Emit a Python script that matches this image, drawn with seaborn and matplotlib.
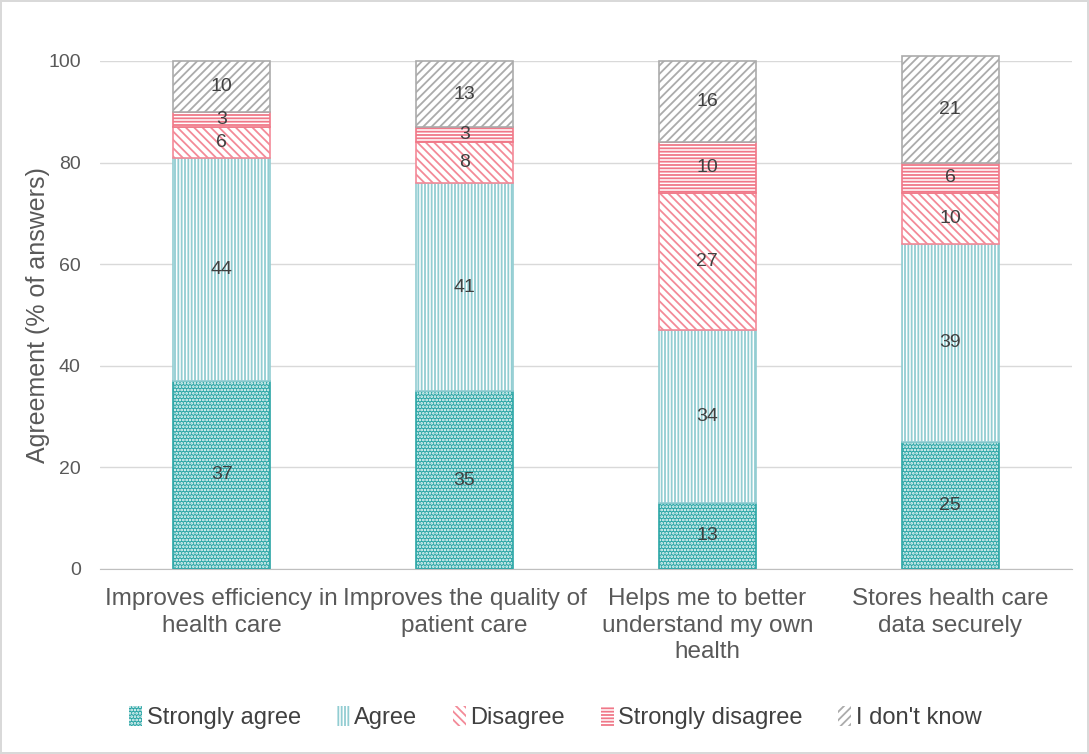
import matplotlib
matplotlib.use('Agg')
import matplotlib.pyplot as plt
import matplotlib.patches as mpatches
import numpy as np
import seaborn as sns

categories = ['Improves efficiency in\nhealth care',
              'Improves the quality of\npatient care',
              'Helps me to better\nunderstand my own\nhealth',
              'Stores health care\ndata securely']
strongly_agree = [37, 35, 13, 25]
agree = [44, 41, 34, 39]
disagree = [6, 8, 27, 10]
strongly_disagree = [3, 3, 10, 6]
dont_know = [10, 13, 16, 21]

series_names = ['Strongly agree', 'Agree', 'Disagree', 'Strongly disagree', "I don't know"]
series_values = [strongly_agree, agree, disagree, strongly_disagree, dont_know]

# (face colour, hatch colour, hatch, border colour)
styles = [
    ('#2BA6A6', 'white', '.....', '#2BA6A6'),
    ('white', '#92CDD2', '|||||', '#92CDD2'),
    ('white', '#F38A98', '\\\\\\\\', '#F38A98'),
    ('white', '#F07888', '-----', '#F07888'),
    ('white', '#ABABAB', '////', '#ABABAB'),
]

sns.set_style('white')
plt.rcParams['font.family'] = ['Liberation Sans', 'DejaVu Sans']
plt.rcParams['hatch.linewidth'] = 1.3

fig = plt.figure(figsize=(10.89, 7.54), dpi=100, edgecolor='#D9D9D9', linewidth=1.5)
ax = fig.add_axes([0.092, 0.2454, 0.892, 0.6737])

bottom = np.zeros(len(categories))
for name, vals, (face, hcol, hatch, border) in zip(series_names, series_values, styles):
    sns.barplot(x=categories, y=vals, bottom=bottom, color=face, hatch=hatch,
                edgecolor=hcol, linewidth=0, width=0.4, errorbar=None,
                saturation=1, clip_on=False, ax=ax)
    # outline of each segment
    sns.barplot(x=categories, y=vals, bottom=bottom, fill=False, color=border,
                linewidth=1.2, width=0.4, errorbar=None, saturation=1,
                clip_on=False, ax=ax)
    # value labels in the middle of each segment
    for i, v in enumerate(vals):
        ax.text(i, bottom[i] + v / 2, str(v), ha='center', va='center',
                fontsize=14, color='#404040')
    bottom += np.array(vals)

ax.set_ylim(0, 100)
ax.set_xlim(-0.5, 3.5)
ax.set_yticks(range(0, 101, 20))
ax.yaxis.grid(True, color='#D9D9D9', linewidth=1)
ax.set_axisbelow(True)
for s in ['top', 'right', 'left']:
    ax.spines[s].set_visible(False)
ax.spines['bottom'].set_color('#BFBFBF')
ax.tick_params(axis='y', labelsize=14, colors='#595959', length=0, pad=14)
ax.tick_params(axis='x', labelsize=17.5, colors='#595959', length=0, pad=14)
for lab in ax.get_xticklabels():
    lab.set_linespacing(1.25)
ax.set_ylabel('Agreement (% of answers)', fontsize=18, color='#595959')
ax.yaxis.set_label_coords(-0.052, 0.5)
ax.set_xlabel('')

handles = [mpatches.Patch(facecolor=f, edgecolor=h, hatch=ht, linewidth=0)
           for f, h, ht, b in styles]
fig.legend(handles, series_names, loc='center', bbox_to_anchor=(0.51, 0.048),
           ncol=5, frameon=False, fontsize=17, handlelength=0.55, handleheight=0.9,
           handletextpad=0.2, columnspacing=1.5, labelcolor='#404040')

fig.savefig('out.png', dpi=100)
